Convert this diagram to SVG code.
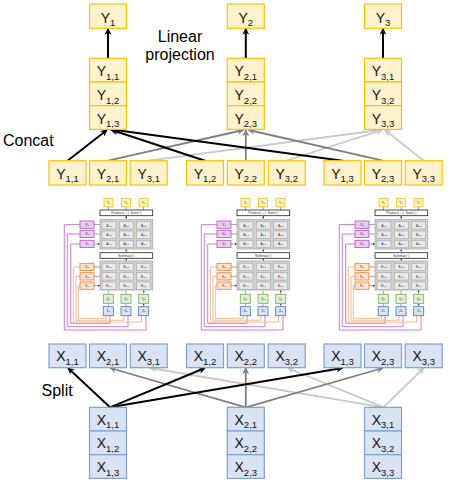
<svg xmlns="http://www.w3.org/2000/svg" width="450" height="483" viewBox="0 0 450 483">
<defs>
<style>
.yb{fill:#FFF2CC;stroke:#FFC000;stroke-width:1.2}
.xb{fill:#DAE3F3;stroke:#7F9FD6;stroke-width:1.2}
.t{font-family:"Liberation Sans",Arial,sans-serif;font-size:14px;fill:#111;text-anchor:middle}
.s{font-size:9.5px}
.cap{font-family:"Liberation Sans",Arial,sans-serif;font-size:16px;fill:#000}
.k{fill:none;stroke:#000;stroke-width:2}
.g{fill:none;stroke:#7F7F7F;stroke-width:1.8}
.lg{fill:none;stroke:#C9C9C9;stroke-width:1.8}
.m{font-family:"Liberation Sans",Arial,sans-serif;font-size:3.4px;fill:#333;text-anchor:middle}
.ms{font-size:2.4px}
.bar{fill:#fff;stroke:#222;stroke-width:0.8}
.blk{fill:#D2D2D2;stroke:#A8A8A8;stroke-width:0.8}
.cell{fill:#E8E8E8;stroke:#9C9C9C;stroke-width:0.5}
.vb{fill:#E8CBEE;stroke:#B455C2;stroke-width:0.8}
.kb{fill:#FBE1CF;stroke:#ED7D31;stroke-width:0.8}
.qb{fill:#E2F0D9;stroke:#70AD47;stroke-width:0.8}
.mx{fill:#DAE3F3;stroke:#4472C4;stroke-width:0.8}
.my{fill:#FFF2CC;stroke:#FFC000;stroke-width:0.8}
.ml{fill:none;stroke:#444;stroke-width:0.5}
.pw{fill:none;stroke:#C86FC9;stroke-width:0.9}
.ow{fill:none;stroke:#F4B183;stroke-width:0.9}
</style>
<marker id="ak" viewBox="0 0 10 10" refX="9" refY="5" markerWidth="7" markerHeight="7" markerUnits="userSpaceOnUse" orient="auto"><path d="M0,0 L10,5 L0,10 L3,5 z" fill="#000"/></marker>
<marker id="ag" viewBox="0 0 10 10" refX="9" refY="5" markerWidth="7" markerHeight="7" markerUnits="userSpaceOnUse" orient="auto"><path d="M0,0 L10,5 L0,10 L3,5 z" fill="#7F7F7F"/></marker>
<marker id="al" viewBox="0 0 10 10" refX="9" refY="5" markerWidth="7" markerHeight="7" markerUnits="userSpaceOnUse" orient="auto"><path d="M0,0 L10,5 L0,10 L3,5 z" fill="#C9C9C9"/></marker>
<marker id="am" viewBox="0 0 10 10" refX="9" refY="5" markerWidth="2.2" markerHeight="2.2" markerUnits="userSpaceOnUse" orient="auto"><path d="M0,0 L10,5 L0,10 z" fill="#333"/></marker>
<g id="attn">
  <!-- wiring -->
  <path class="pw" d="M110,315.7 V323.3 H70.7 V244 H80"/>
  <path class="pw" d="M128,315.7 V326.7 H67.3 V234 H80"/>
  <path class="pw" d="M146,315.7 V330 H64.3 V224.6 H80"/>
  <path class="ow" d="M106.5,315.7 V318.3 H78.3 V285.6 H80"/>
  <path class="ow" d="M124,315.7 V320.2 H76 V276.3 H80"/>
  <path class="ow" d="M141.5,315.7 V322 H73.3 V267 H80"/>
  <!-- small links -->
  <path class="ml" d="M108.5,206.8V210 M126,206.8V210 M143.5,206.8V210"/>
  <path class="ml" marker-end="url(#am)" d="M126.3,219.3V215.9"/>
  <path class="ml" marker-end="url(#am)" d="M126.3,252.7V249.2"/>
  <path class="ml" marker-end="url(#am)" d="M126.3,261V258.5"/>
  <path class="ml" marker-end="url(#am)" d="M94,224.6H100 M94,234H100 M94,244H100"/>
  <path class="ml" marker-end="url(#am)" d="M94,267H100 M94,276.3H100 M94,285.6H100"/>
  <path class="ml" marker-end="url(#am)" d="M108.3,294.3V290.2 M126,294.3V290.2 M143.7,294.3V290.2"/>
  <path class="ml" marker-end="url(#am)" d="M108.3,306.7V303.5 M126,306.7V303.5 M143.7,306.7V303.5"/>
  <!-- Y -->
  <rect class="my" x="104" y="198.3" width="9" height="8.5"/><text class="m" x="108.5" y="203.8">Y<tspan class="ms">1</tspan></text>
  <rect class="my" x="121.5" y="198.3" width="9" height="8.5"/><text class="m" x="126" y="203.8">Y<tspan class="ms">2</tspan></text>
  <rect class="my" x="139" y="198.3" width="9" height="8.5"/><text class="m" x="143.5" y="203.8">Y<tspan class="ms">3</tspan></text>
  <rect class="bar" x="100" y="210" width="52.7" height="5.7"/><text class="m" x="126.3" y="214.2">Product(→),  Sum(↑)</text>
  <!-- A block -->
  <rect class="blk" x="100" y="219.3" width="52.7" height="29.7"/>
  <rect class="cell" x="102" y="221.7" width="14" height="7.3"/><text class="m" x="109" y="226.6">A<tspan class="ms">1,3</tspan></text>
  <rect class="cell" x="119.3" y="221.7" width="14" height="7.3"/><text class="m" x="126.3" y="226.6">A<tspan class="ms">2,3</tspan></text>
  <rect class="cell" x="136.7" y="221.7" width="14" height="7.3"/><text class="m" x="143.7" y="226.6">A<tspan class="ms">3,3</tspan></text>
  <rect class="cell" x="102" y="231" width="14" height="7.3"/><text class="m" x="109" y="235.9">A<tspan class="ms">1,2</tspan></text>
  <rect class="cell" x="119.3" y="231" width="14" height="7.3"/><text class="m" x="126.3" y="235.9">A<tspan class="ms">2,2</tspan></text>
  <rect class="cell" x="136.7" y="231" width="14" height="7.3"/><text class="m" x="143.7" y="235.9">A<tspan class="ms">3,2</tspan></text>
  <rect class="cell" x="102" y="240.3" width="14" height="7.3"/><text class="m" x="109" y="245.2">A<tspan class="ms">1,1</tspan></text>
  <rect class="cell" x="119.3" y="240.3" width="14" height="7.3"/><text class="m" x="126.3" y="245.2">A<tspan class="ms">2,1</tspan></text>
  <rect class="cell" x="136.7" y="240.3" width="14" height="7.3"/><text class="m" x="143.7" y="245.2">A<tspan class="ms">3,1</tspan></text>
  <!-- V -->
  <rect class="vb" x="80" y="221" width="14" height="7.3"/><text class="m" x="87" y="225.9">V<tspan class="ms">3</tspan></text>
  <rect class="vb" x="80" y="230.3" width="14" height="7.3"/><text class="m" x="87" y="235.2">V<tspan class="ms">2</tspan></text>
  <rect class="vb" x="80" y="240.3" width="14" height="7.3"/><text class="m" x="87" y="245.2">V<tspan class="ms">1</tspan></text>
  <rect class="bar" x="100" y="252.7" width="52.7" height="5.6"/><text class="m" x="126.3" y="256.8">Softmax(↑)</text>
  <!-- E block -->
  <rect class="blk" x="100" y="261" width="52.7" height="29"/>
  <rect class="cell" x="102" y="263.3" width="14" height="7.3"/><text class="m" x="109" y="268.2">E<tspan class="ms">1,3</tspan></text>
  <rect class="cell" x="119.3" y="263.3" width="14" height="7.3"/><text class="m" x="126.3" y="268.2">E<tspan class="ms">2,3</tspan></text>
  <rect class="cell" x="136.7" y="263.3" width="14" height="7.3"/><text class="m" x="143.7" y="268.2">E<tspan class="ms">3,3</tspan></text>
  <rect class="cell" x="102" y="272.7" width="14" height="7.3"/><text class="m" x="109" y="277.6">E<tspan class="ms">1,2</tspan></text>
  <rect class="cell" x="119.3" y="272.7" width="14" height="7.3"/><text class="m" x="126.3" y="277.6">E<tspan class="ms">2,2</tspan></text>
  <rect class="cell" x="136.7" y="272.7" width="14" height="7.3"/><text class="m" x="143.7" y="277.6">E<tspan class="ms">3,2</tspan></text>
  <rect class="cell" x="102" y="282" width="14" height="7.3"/><text class="m" x="109" y="286.9">E<tspan class="ms">1,1</tspan></text>
  <rect class="cell" x="119.3" y="282" width="14" height="7.3"/><text class="m" x="126.3" y="286.9">E<tspan class="ms">2,1</tspan></text>
  <rect class="cell" x="136.7" y="282" width="14" height="7.3"/><text class="m" x="143.7" y="286.9">E<tspan class="ms">3,1</tspan></text>
  <!-- K -->
  <rect class="kb" x="80" y="263.3" width="14" height="7.3"/><text class="m" x="87" y="268.2">K<tspan class="ms">3</tspan></text>
  <rect class="kb" x="80" y="272.7" width="14" height="7.3"/><text class="m" x="87" y="277.6">K<tspan class="ms">2</tspan></text>
  <rect class="kb" x="80" y="282" width="14" height="7.3"/><text class="m" x="87" y="286.9">K<tspan class="ms">1</tspan></text>
  <!-- Q -->
  <rect class="qb" x="103.3" y="294.3" width="10" height="9"/><text class="m" x="108.3" y="300">Q<tspan class="ms">1</tspan></text>
  <rect class="qb" x="121" y="294.3" width="10" height="9"/><text class="m" x="126" y="300">Q<tspan class="ms">2</tspan></text>
  <rect class="qb" x="138.7" y="294.3" width="10" height="9"/><text class="m" x="143.7" y="300">Q<tspan class="ms">3</tspan></text>
  <!-- X -->
  <rect class="mx" x="103.3" y="306.7" width="10" height="9"/><text class="m" x="108.3" y="312.4">X<tspan class="ms">1</tspan></text>
  <rect class="mx" x="121" y="306.7" width="10" height="9"/><text class="m" x="126" y="312.4">X<tspan class="ms">2</tspan></text>
  <rect class="mx" x="138.7" y="306.7" width="10" height="9"/><text class="m" x="143.7" y="312.4">X<tspan class="ms">3</tspan></text>
</g>
</defs>
<rect width="450" height="483" fill="#fff"/>

<g id="connectors">
  <!-- top: concat -->
  <line class="lg" marker-end="url(#al)" x1="148.7" y1="160.7" x2="380" y2="130"/>
  <line class="lg" marker-end="url(#al)" x1="286.7" y1="160.7" x2="382" y2="130"/>
  <line class="lg" marker-end="url(#al)" x1="423.7" y1="160.7" x2="385" y2="130"/>
  <line class="g" marker-end="url(#ag)" x1="108" y1="160.7" x2="243.5" y2="130"/>
  <line class="g" marker-end="url(#ag)" x1="245.8" y1="160.7" x2="245.8" y2="130"/>
  <line class="g" marker-end="url(#ag)" x1="383" y1="160.7" x2="248.5" y2="130"/>
  <line class="k" marker-end="url(#ak)" x1="67.5" y1="160.7" x2="107" y2="130"/>
  <line class="k" marker-end="url(#ak)" x1="205" y1="160.7" x2="111" y2="129.8"/>
  <line class="k" marker-end="url(#ak)" x1="342.5" y1="160.7" x2="111.5" y2="129.6"/>
  <!-- linear projection -->
  <line class="k" marker-end="url(#ak)" x1="108" y1="58.3" x2="108" y2="28.5"/>
  <line class="k" marker-end="url(#ak)" x1="245.8" y1="58.3" x2="245.8" y2="28.5"/>
  <line class="k" marker-end="url(#ak)" x1="383" y1="58.3" x2="383" y2="28.5"/>
  <!-- bottom: split -->
  <line class="lg" marker-end="url(#al)" x1="383.5" y1="407.3" x2="150" y2="368"/>
  <line class="lg" marker-end="url(#al)" x1="383.5" y1="407.3" x2="288" y2="368"/>
  <line class="lg" marker-end="url(#al)" x1="383.5" y1="407.3" x2="423.7" y2="368"/>
  <line class="g" marker-end="url(#ag)" x1="245.8" y1="407.3" x2="110" y2="368"/>
  <line class="g" marker-end="url(#ag)" x1="245.8" y1="407.3" x2="245.8" y2="368"/>
  <line class="g" marker-end="url(#ag)" x1="245.8" y1="407.3" x2="383" y2="368"/>
  <line class="k" marker-end="url(#ak)" x1="110" y1="407.3" x2="68" y2="368"/>
  <line class="k" marker-end="url(#ak)" x1="110" y1="407.3" x2="205" y2="368"/>
  <line class="k" marker-end="url(#ak)" x1="110" y1="407.3" x2="342.5" y2="368"/>
</g>

<g id="self-attention">
  <use id="attention-1" href="#attn"/>
  <use id="attention-2" href="#attn" x="137"/>
  <use id="attention-3" href="#attn" x="275"/>
</g>

<g id="labels">
  <text class="cap" x="180" y="41.5" text-anchor="middle">Linear</text>
  <text class="cap" x="180" y="60" text-anchor="middle">projection</text>
  <text class="cap" x="3" y="146">Concat</text>
  <text class="cap" x="41.5" y="396">Split</text>
</g>

<!-- top Y outputs -->
<g id="Y1"><rect class="yb" x="89.5" y="4" width="37" height="24.3"/><text class="t" x="108" y="22.5">Y<tspan class="s" dy="3.5">1</tspan></text></g>
<g id="Y2"><rect class="yb" x="227.3" y="4" width="37" height="24.3"/><text class="t" x="245.8" y="22.5">Y<tspan class="s" dy="3.5">2</tspan></text></g>
<g id="Y3"><rect class="yb" x="364.5" y="4" width="37" height="24.3"/><text class="t" x="383" y="22.5">Y<tspan class="s" dy="3.5">3</tspan></text></g>

<!-- concatenated columns -->
<g id="Ycol1">
  <rect class="yb" x="89.5" y="58.3" width="37" height="23.7"/><text class="t" x="108" y="76.3">Y<tspan class="s" dy="3.5">1,1</tspan></text>
  <rect class="yb" x="89.5" y="82" width="37" height="23.7"/><text class="t" x="108" y="100">Y<tspan class="s" dy="3.5">1,2</tspan></text>
  <rect class="yb" x="89.5" y="105.7" width="37" height="23.7"/><text class="t" x="108" y="123.7">Y<tspan class="s" dy="3.5">1,3</tspan></text>
</g>
<g id="Ycol2">
  <rect class="yb" x="227.3" y="58.3" width="37" height="23.7"/><text class="t" x="245.8" y="76.3">Y<tspan class="s" dy="3.5">2,1</tspan></text>
  <rect class="yb" x="227.3" y="82" width="37" height="23.7"/><text class="t" x="245.8" y="100">Y<tspan class="s" dy="3.5">2,2</tspan></text>
  <rect class="yb" x="227.3" y="105.7" width="37" height="23.7"/><text class="t" x="245.8" y="123.7">Y<tspan class="s" dy="3.5">2,3</tspan></text>
</g>
<g id="Ycol3">
  <rect class="yb" x="364.5" y="58.3" width="37" height="23.7"/><text class="t" x="383" y="76.3">Y<tspan class="s" dy="3.5">3,1</tspan></text>
  <rect class="yb" x="364.5" y="82" width="37" height="23.7"/><text class="t" x="383" y="100">Y<tspan class="s" dy="3.5">3,2</tspan></text>
  <rect class="yb" x="364.5" y="105.7" width="37" height="23.7"/><text class="t" x="383" y="123.7">Y<tspan class="s" dy="3.5">3,3</tspan></text>
</g>

<!-- Y row (head outputs) -->
<g id="Y11"><rect class="yb" x="49" y="160.7" width="37" height="24.3"/><text class="t" x="67.5" y="178.8">Y<tspan class="s" dy="3.5">1,1</tspan></text></g>
<g id="Y21"><rect class="yb" x="89.5" y="160.7" width="37" height="24.3"/><text class="t" x="108" y="178.8">Y<tspan class="s" dy="3.5">2,1</tspan></text></g>
<g id="Y31"><rect class="yb" x="130.2" y="160.7" width="37" height="24.3"/><text class="t" x="148.7" y="178.8">Y<tspan class="s" dy="3.5">3,1</tspan></text></g>
<g id="Y12"><rect class="yb" x="186.5" y="160.7" width="37" height="24.3"/><text class="t" x="205" y="178.8">Y<tspan class="s" dy="3.5">1,2</tspan></text></g>
<g id="Y22"><rect class="yb" x="227.3" y="160.7" width="37" height="24.3"/><text class="t" x="245.8" y="178.8">Y<tspan class="s" dy="3.5">2,2</tspan></text></g>
<g id="Y32"><rect class="yb" x="268.2" y="160.7" width="37" height="24.3"/><text class="t" x="286.7" y="178.8">Y<tspan class="s" dy="3.5">3,2</tspan></text></g>
<g id="Y13"><rect class="yb" x="324" y="160.7" width="37" height="24.3"/><text class="t" x="342.5" y="178.8">Y<tspan class="s" dy="3.5">1,3</tspan></text></g>
<g id="Y23"><rect class="yb" x="364.5" y="160.7" width="37" height="24.3"/><text class="t" x="383" y="178.8">Y<tspan class="s" dy="3.5">2,3</tspan></text></g>
<g id="Y33"><rect class="yb" x="405.2" y="160.7" width="37" height="24.3"/><text class="t" x="423.7" y="178.8">Y<tspan class="s" dy="3.5">3,3</tspan></text></g>

<!-- X row (split) -->
<g id="X11"><rect class="xb" x="49" y="344" width="37" height="23.7"/><text class="t" x="67.5" y="361.2">X<tspan class="s" dy="3.5">1,1</tspan></text></g>
<g id="X21"><rect class="xb" x="89.5" y="344" width="37" height="23.7"/><text class="t" x="108" y="361.2">X<tspan class="s" dy="3.5">2,1</tspan></text></g>
<g id="X31"><rect class="xb" x="130.2" y="344" width="37" height="23.7"/><text class="t" x="148.7" y="361.2">X<tspan class="s" dy="3.5">3,1</tspan></text></g>
<g id="X12"><rect class="xb" x="186.5" y="344" width="37" height="23.7"/><text class="t" x="205" y="361.2">X<tspan class="s" dy="3.5">1,2</tspan></text></g>
<g id="X22"><rect class="xb" x="227.3" y="344" width="37" height="23.7"/><text class="t" x="245.8" y="361.2">X<tspan class="s" dy="3.5">2,2</tspan></text></g>
<g id="X32"><rect class="xb" x="268.2" y="344" width="37" height="23.7"/><text class="t" x="286.7" y="361.2">X<tspan class="s" dy="3.5">3,2</tspan></text></g>
<g id="X13"><rect class="xb" x="324" y="344" width="37" height="23.7"/><text class="t" x="342.5" y="361.2">X<tspan class="s" dy="3.5">1,3</tspan></text></g>
<g id="X23"><rect class="xb" x="364.5" y="344" width="37" height="23.7"/><text class="t" x="383" y="361.2">X<tspan class="s" dy="3.5">2,3</tspan></text></g>
<g id="X33"><rect class="xb" x="405.2" y="344" width="37" height="23.7"/><text class="t" x="423.7" y="361.2">X<tspan class="s" dy="3.5">3,3</tspan></text></g>

<!-- X input columns -->
<g id="Xcol1">
  <rect class="xb" x="89.5" y="407.3" width="37" height="23.7"/><text class="t" x="108" y="424.7">X<tspan class="s" dy="3.5">1,1</tspan></text>
  <rect class="xb" x="89.5" y="431" width="37" height="23.7"/><text class="t" x="108" y="448.4">X<tspan class="s" dy="3.5">1,2</tspan></text>
  <rect class="xb" x="89.5" y="454.7" width="37" height="23.7"/><text class="t" x="108" y="472.1">X<tspan class="s" dy="3.5">1,3</tspan></text>
</g>
<g id="Xcol2">
  <rect class="xb" x="227.3" y="407.3" width="37" height="23.7"/><text class="t" x="245.8" y="424.7">X<tspan class="s" dy="3.5">2,1</tspan></text>
  <rect class="xb" x="227.3" y="431" width="37" height="23.7"/><text class="t" x="245.8" y="448.4">X<tspan class="s" dy="3.5">2,2</tspan></text>
  <rect class="xb" x="227.3" y="454.7" width="37" height="23.7"/><text class="t" x="245.8" y="472.1">X<tspan class="s" dy="3.5">2,3</tspan></text>
</g>
<g id="Xcol3">
  <rect class="xb" x="364.5" y="407.3" width="37" height="23.7"/><text class="t" x="383" y="424.7">X<tspan class="s" dy="3.5">3,1</tspan></text>
  <rect class="xb" x="364.5" y="431" width="37" height="23.7"/><text class="t" x="383" y="448.4">X<tspan class="s" dy="3.5">3,2</tspan></text>
  <rect class="xb" x="364.5" y="454.7" width="37" height="23.7"/><text class="t" x="383" y="472.1">X<tspan class="s" dy="3.5">3,3</tspan></text>
</g>
</svg>
